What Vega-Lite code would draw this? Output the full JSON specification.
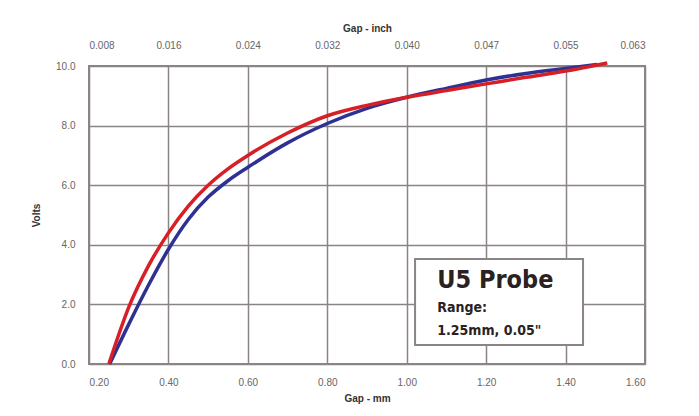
{
  "$schema": "https://vega.github.io/schema/vega-lite/v6.json",
  "width": 556,
  "height": 298,
  "autosize": "none",
  "padding": {"left": 89, "top": 66, "right": 54, "bottom": 52},
  "background": "white",
  "config": {
    "view": {"stroke": "#8a8484", "strokeWidth": 2},
    "font": "Liberation Sans",
    "axis": {
      "gridColor": "#8a8484", "gridWidth": 1.5, "gridOpacity": 1,
      "domain": false, "ticks": false,
      "labelColor": "#666666", "labelFontSize": 10, "labelFont": "Liberation Sans",
      "titleFont": "Liberation Sans", "titleFontSize": 10, "titleFontWeight": "bold", "titleColor": "#333333"
    }
  },
  "datasets": {
    "curves": [
      {"series": "blue", "mm": 0.252, "volts": 0.0},
      {"series": "blue", "mm": 0.30, "volts": 1.33},
      {"series": "blue", "mm": 0.35, "volts": 2.65},
      {"series": "blue", "mm": 0.40, "volts": 3.85},
      {"series": "blue", "mm": 0.45, "volts": 4.85},
      {"series": "blue", "mm": 0.50, "volts": 5.6},
      {"series": "blue", "mm": 0.55, "volts": 6.15},
      {"series": "blue", "mm": 0.60, "volts": 6.6},
      {"series": "blue", "mm": 0.70, "volts": 7.42},
      {"series": "blue", "mm": 0.80, "volts": 8.07},
      {"series": "blue", "mm": 0.90, "volts": 8.58},
      {"series": "blue", "mm": 1.00, "volts": 8.95},
      {"series": "blue", "mm": 1.10, "volts": 9.25},
      {"series": "blue", "mm": 1.20, "volts": 9.53},
      {"series": "blue", "mm": 1.30, "volts": 9.75},
      {"series": "blue", "mm": 1.40, "volts": 9.92},
      {"series": "blue", "mm": 1.48, "volts": 10.05},
      {"series": "red", "mm": 0.25, "volts": 0.0},
      {"series": "red", "mm": 0.30, "volts": 1.9},
      {"series": "red", "mm": 0.35, "volts": 3.3},
      {"series": "red", "mm": 0.40, "volts": 4.4},
      {"series": "red", "mm": 0.45, "volts": 5.3},
      {"series": "red", "mm": 0.50, "volts": 6.0},
      {"series": "red", "mm": 0.55, "volts": 6.55},
      {"series": "red", "mm": 0.60, "volts": 7.0},
      {"series": "red", "mm": 0.70, "volts": 7.75},
      {"series": "red", "mm": 0.80, "volts": 8.33},
      {"series": "red", "mm": 0.90, "volts": 8.68},
      {"series": "red", "mm": 1.00, "volts": 8.95},
      {"series": "red", "mm": 1.10, "volts": 9.18},
      {"series": "red", "mm": 1.20, "volts": 9.4},
      {"series": "red", "mm": 1.30, "volts": 9.62},
      {"series": "red", "mm": 1.40, "volts": 9.83},
      {"series": "red", "mm": 1.505, "volts": 10.1}
    ]
  },
  "resolve": {"axis": {"x": "independent"}},
  "layer": [
    {
      "data": {"values": [{"x1": 1.021, "x2": 1.444, "y1": 3.52, "y2": 0.64}]},
      "mark": {"type": "rect", "fill": "white", "stroke": "#8a8484", "strokeWidth": 2},
      "encoding": {
        "x": {"field": "x1", "type": "quantitative", "scale": {"domain": [0.2, 1.6], "nice": false, "zero": false},
              "axis": {"orient": "bottom", "title": "Gap - mm", "values": [0.2, 0.4, 0.6, 0.8, 1.0, 1.2, 1.4, 1.6], "format": ".2f", "labelPadding": 13, "titlePadding": 6, "grid": true}},
        "x2": {"field": "x2"},
        "y": {"field": "y1", "type": "quantitative", "scale": {"domain": [0, 10], "nice": false},
              "axis": {"title": "Volts", "values": [0, 2, 4, 6, 8, 10], "format": ".1f", "labelPadding": 14, "titlePadding": 14, "grid": true}},
        "y2": {"field": "y2"}
      }
    },
    {
      "data": {"values": [{"mm": 1.077, "volts": 2.55, "label": "U5 Probe"}]},
      "mark": {"type": "text", "align": "left", "baseline": "alphabetic", "fontSize": 25, "fontWeight": "bold", "color": "#2a2222", "font": "'DejaVu Sans Condensed', Roboto, sans-serif"},
      "encoding": {
        "x": {"field": "mm", "type": "quantitative", "axis": null},
        "y": {"field": "volts", "type": "quantitative"},
        "text": {"field": "label"}
      }
    },
    {
      "data": {"values": [{"mm": 1.077, "volts": 1.745, "label": "Range:"}, {"mm": 1.077, "volts": 0.97, "label": "1.25mm, 0.05\""}]},
      "mark": {"type": "text", "align": "left", "baseline": "alphabetic", "fontSize": 14, "fontWeight": "bold", "color": "#2a2222", "font": "'DejaVu Sans Condensed', Roboto, sans-serif"},
      "encoding": {
        "x": {"field": "mm", "type": "quantitative", "axis": null},
        "y": {"field": "volts", "type": "quantitative"},
        "text": {"field": "label"}
      }
    },
    {
      "data": {"name": "curves"},
      "mark": {"type": "line", "strokeWidth": 3.5, "interpolate": "monotone"},
      "encoding": {
        "x": {"field": "mm", "type": "quantitative",
              "axis": {"orient": "top", "title": "Gap - inch", "values": [0.2, 0.4, 0.6, 0.8, 1.0, 1.2, 1.4, 1.6], "grid": false, "labelPadding": 16, "titlePadding": 7,
                       "labelExpr": "['0.008','0.016','0.024','0.032','0.040','0.047','0.055','0.063'][round(datum.value*5)-1]"}},
        "y": {"field": "volts", "type": "quantitative"},
        "color": {"field": "series", "type": "nominal", "scale": {"domain": ["blue", "red"], "range": ["#2e3192", "#d71f26"]}, "legend": null},
        "order": {"field": "mm"}
      }
    }
  ]
}
